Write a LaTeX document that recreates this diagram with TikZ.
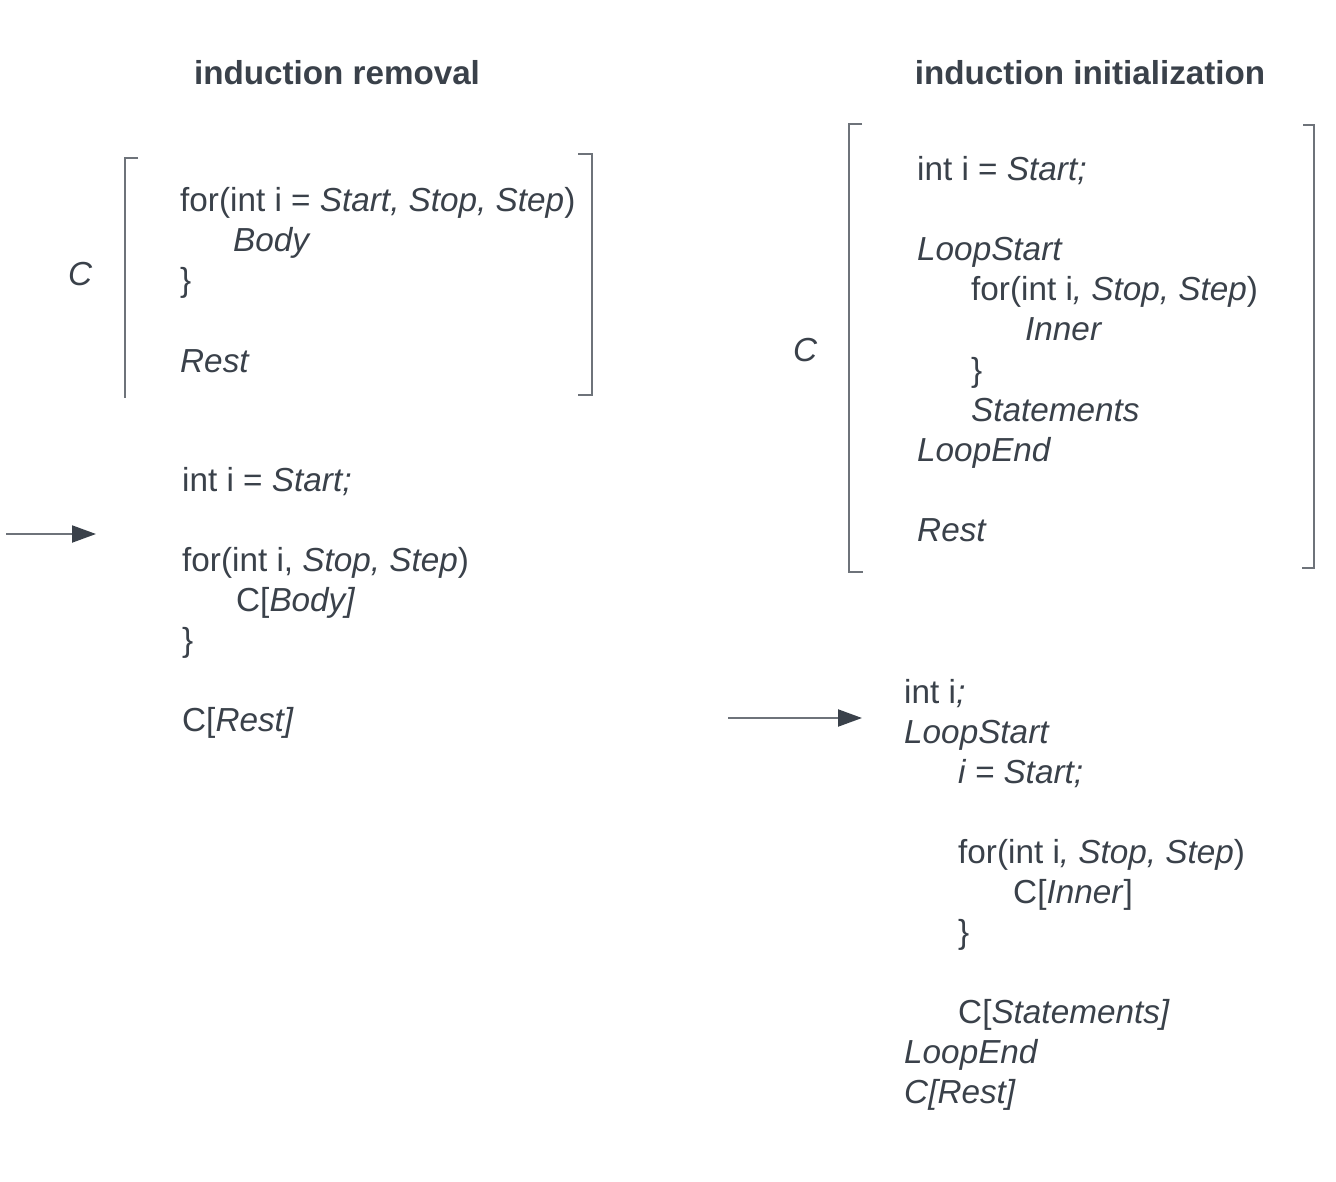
\documentclass[tikz,border=0pt]{standalone}
\usepackage{fontspec}
\setmainfont{Liberation Sans}
\usetikzlibrary{arrows.meta}
\definecolor{txt}{HTML}{3A414A}
\definecolor{ln}{HTML}{6E737A}
\begin{document}
\begin{tikzpicture}[x=1pt,y=-1pt,
  code/.style={anchor=base west, inner sep=0pt, text=txt, font=\fontsize{33.3}{40}\selectfont},
  ttl/.style={anchor=base, inner sep=0pt, text=txt, font=\fontsize{33.2}{40}\selectfont\bfseries},
  brk/.style={draw=ln, line width=1.5pt},
  arr/.style={draw=ln, line width=2pt, -{Triangle[length=24pt,width=17pt,color=txt]}}]
\useasboundingbox[fill=white] (0,0) rectangle (1336,1182);

% titles
\node[ttl] (t1) at (337,85) {induction removal};
\node[ttl] (t2) at (1090,85) {induction initialization};

% left top block
\draw[brk] (138,158) -- (125,158) -- (125,398);
\draw[brk] (578,154) -- (592,154) -- (592,395) -- (578,395);
\node[code] (lc) at (68,286) {\textit{C}};
\node[code] (l1) at (180,212) {for(int i = \textit{Start, Stop, Step})};
\node[code] (l2) at (233,252) {\textit{Body}};
\node[code] (l3) at (180,292) {\}};
\node[code] (l4) at (180,372) {\textit{Rest}};

% left arrow
\coordinate (a1s) at (6,534);
\coordinate (a1e) at (96,534);
\draw[arr] (a1s) -- (a1e);

% left bottom block
\node[code] (m1) at (182,491) {int i = \textit{Start;}};
\node[code] (m2) at (182,571) {for(int i, \textit{Stop, Step})};
\node[code] (m3) at (236,611) {C[\textit{Body]}};
\node[code] (m4) at (182,651) {\}};
\node[code] (m5) at (182,731) {C[\textit{Rest]}};

% right top block
\draw[brk] (862,124) -- (849,124) -- (849,572) -- (863,572);
\draw[brk] (1303,125) -- (1314,125) -- (1314,568) -- (1302,568);
\node[code] (rc) at (793,361) {\textit{C}};
\node[code] (r1) at (917,181) {int i = \textit{Start;}};
\node[code] (r2) at (917,261) {\textit{LoopStart}};
\node[code] (r3) at (971,301) {for(int i\textit{, Stop, Step})};
\node[code] (r4) at (1025,341) {\textit{Inner}};
\node[code] (r5) at (971,381) {\}};
\node[code] (r6) at (971,421) {\textit{Statements}};
\node[code] (r7) at (917,461) {\textit{LoopEnd}};
\node[code] (r8) at (917,541) {\textit{Rest}};

% right arrow
\coordinate (a2s) at (728,718);
\coordinate (a2e) at (862,718);
\draw[arr] (a2s) -- (a2e);

% right bottom block
\node[code] (s1) at (904,703) {int i\textit{;}};
\node[code] (s2) at (904,743) {\textit{LoopStart}};
\node[code] (s3) at (958,783) {\textit{i = Start;}};
\node[code] (s4) at (958,863) {for(int i\textit{, Stop, Step})};
\node[code] (s5) at (1013,903) {C[\textit{Inner}]};
\node[code] (s6) at (958,943) {\}};
\node[code] (s7) at (958,1023) {C[\textit{Statements]}};
\node[code] (s8) at (904,1063) {\textit{LoopEnd}};
\node[code] (s9) at (904,1103) {\textit{C[Rest]}};
\end{tikzpicture}
\end{document}
